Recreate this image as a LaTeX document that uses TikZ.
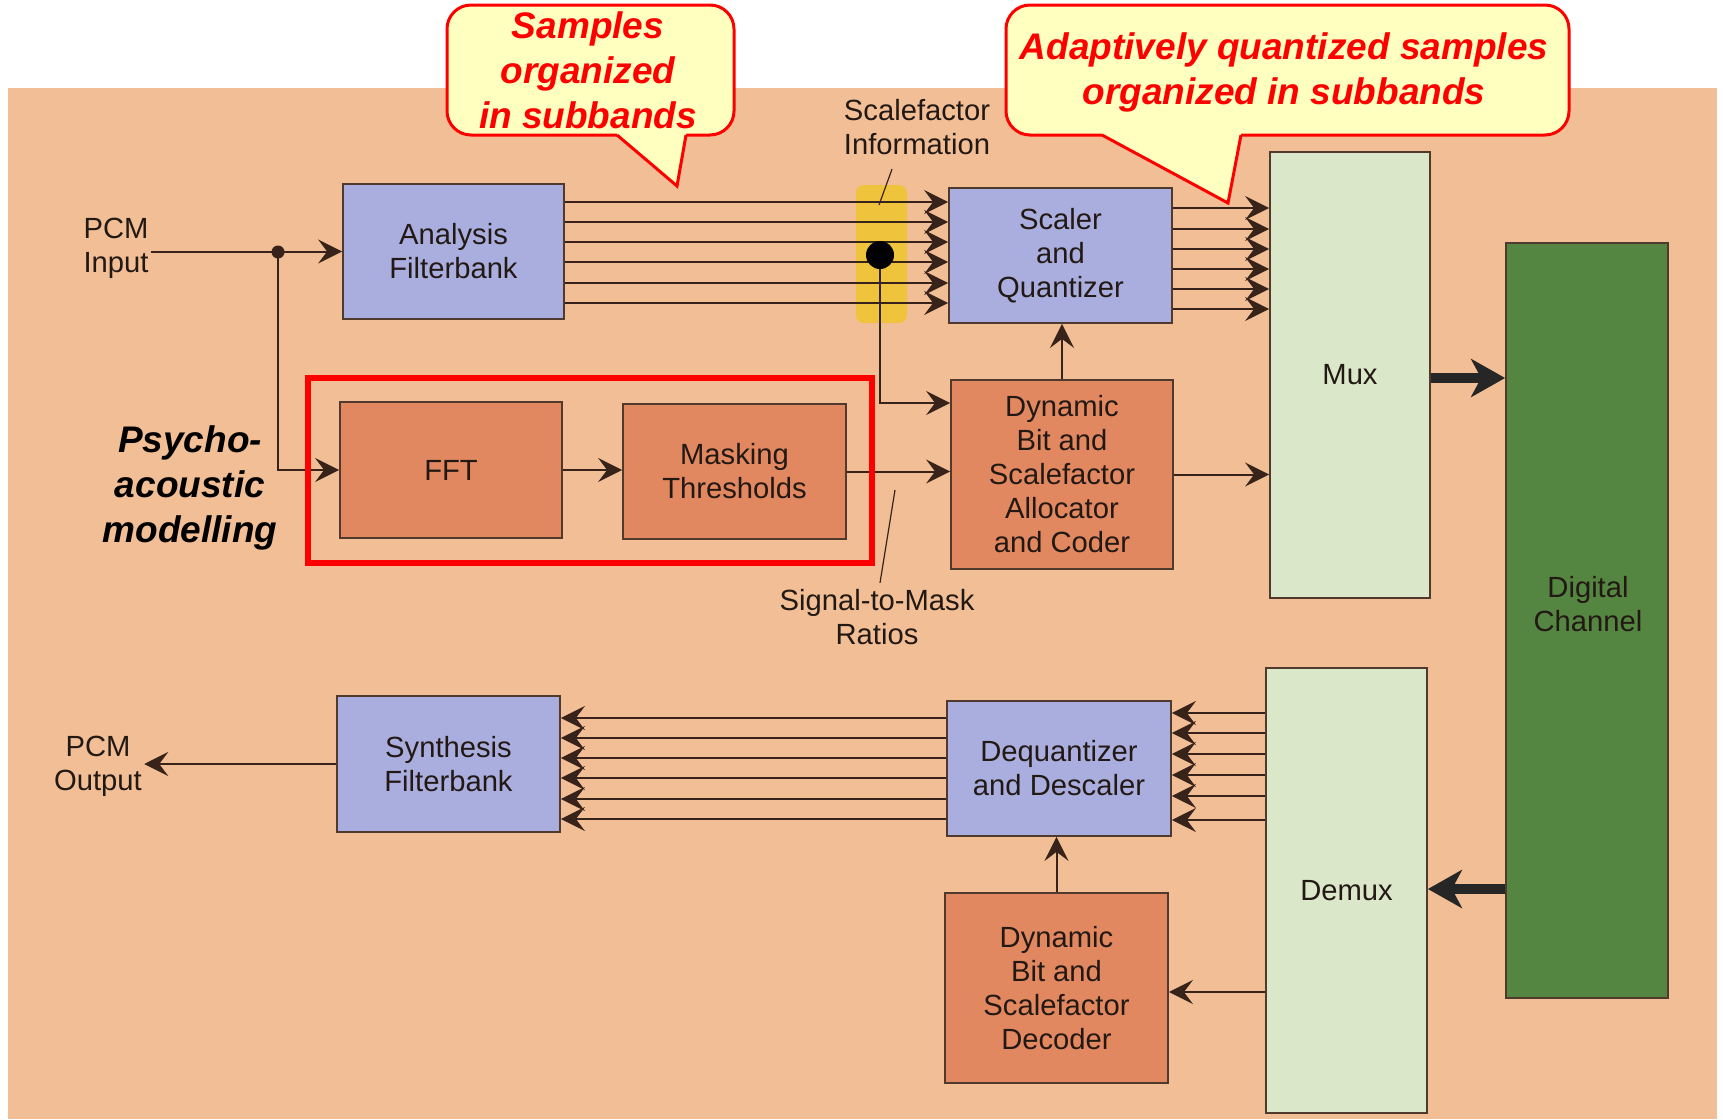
\documentclass[tikz,border=0pt]{standalone}
\usepackage{fontspec}
\setmainfont{Liberation Sans}
\usetikzlibrary{arrows.meta,calc}
\definecolor{bg}{RGB}{241,190,150}
\definecolor{bluebox}{RGB}{170,174,222}
\definecolor{orbox}{RGB}{226,136,96}
\definecolor{muxc}{RGB}{218,231,200}
\definecolor{digc}{RGB}{84,134,66}
\definecolor{hil}{RGB}{240,195,60}
\definecolor{calfill}{RGB}{255,255,192}
\definecolor{linec}{RGB}{55,35,25}
\definecolor{edgec}{RGB}{80,58,45}
\definecolor{txtc}{RGB}{35,25,20}
\begin{document}
\begin{tikzpicture}[x=0.5pt,y=-0.5pt,
  wh/.style 2 args={minimum width=#1*0.5pt, minimum height=#2*0.5pt},
  blk/.style={draw=edgec, line width=0.9pt, inner sep=0pt, align=center,
    font=\fontsize{14.6}{17}\selectfont, text=txtc},
  txt/.style={inner sep=1pt, align=center, font=\fontsize{14.6}{17}\selectfont, text=txtc},
  psy/.style={inner sep=1pt, align=center, font=\fontsize{18.5}{22.5}\selectfont\bfseries\itshape, text=black},
  calltxt/.style={inner sep=1pt, align=center, font=\fontsize{18.5}{22.5}\selectfont\bfseries\itshape, text=red},
  ln/.style={draw=linec, line width=1pt},
  leader/.style={draw=linec, line width=0.6pt},
  arr/.style={ln, -{Stealth[length=12pt,width=12pt,inset=4.5pt]}},
  bigarr/.style={draw=black!85, line width=5pt, -{Stealth[length=17pt,width=19pt,inset=5pt]}},
  callout/.style={fill=calfill, draw=red, line width=1.5pt}
]
\useasboundingbox (0,0) rectangle (1723,1119);
% background
\fill[bg] (8,88) rectangle (1717,1119);
% scalefactor highlight
\fill[hil, rounded corners=4pt] (856,185) rectangle (907,323);

% blocks
\node[blk, fill=bluebox, wh={221}{135}] (ana) at (453.5,251.5) {Analysis\\Filterbank};
\node[blk, fill=bluebox, wh={223}{135}] (scl) at (1060.5,255.5) {Scaler\\and\\Quantizer};
\node[blk, fill=muxc, wh={160}{446}] (mux) at (1350,375) {Mux};
\node[blk, fill=digc, wh={162}{755}] (dig) at (1587,620.5) {};
\node[txt] (digt) at (1588,604) {Digital\\Channel};
\node[blk, fill=orbox, wh={222}{136}] (fft) at (451,470) {FFT};
\node[blk, fill=orbox, wh={223}{135}] (msk) at (734.5,471.5) {Masking\\Thresholds};
\node[blk, fill=orbox, wh={222}{189}] (dyn) at (1062,474.5) {Dynamic\\Bit and\\Scalefactor\\Allocator\\and Coder};
\node[blk, fill=bluebox, wh={223}{136}] (syn) at (448.5,764) {Synthesis\\Filterbank};
\node[blk, fill=bluebox, wh={224}{135}] (deq) at (1059,768.5) {Dequantizer\\and Descaler};
\node[blk, fill=orbox, wh={223}{190}] (dec) at (1056.5,988) {Dynamic\\Bit and\\Scalefactor\\Decoder};
\node[blk, fill=muxc, wh={161}{445}] (dmx) at (1346.5,890.5) {Demux};

% labels
\node[txt] (pcmin) at (116,248) {PCM\\Input};
\node[txt] (pcmout) at (98,766) {PCM\\Output};
\node[txt] (sfi) at (917,127) {Scalefactor\\Information};
\node[txt] (smr) at (877,617) {Signal-to-Mask\\Ratios};
\node[psy] (psyt) at (190,488) {Psycho-\\acoustic\\modelling};

% input and split
\coordinate (split) at (278,252);
\draw[arr] (pcmin.east |- ana.west) -- (ana.west);
\draw[arr] (split) |- (fft.west);
\fill[linec] (split) circle (6.5);

% analysis -> scaler
\foreach \yy in {202,222,242,262,283,303}
  \draw[arr] (ana.east |- 0,\yy) -- (scl.west |- 0,\yy);
% scaler -> mux
\foreach \yy in {208,229,249,269,289,309}
  \draw[arr] (scl.east |- 0,\yy) -- (mux.west |- 0,\yy);

% scalefactor tap
\coordinate (sfdot) at (880,255);
\draw[arr] (sfdot) |- (dyn.west |- 0,403);
\fill[black] (sfdot) circle (14);
\coordinate (sfl) at (879,205);
\draw[leader] ($(sfi.south)+(-25,12)$) -- (sfl);

% psychoacoustic chain
\draw[arr] (fft.east) -- (fft.east -| msk.west);
\draw[arr] (msk.east) -- (msk.east -| dyn.west);
\coordinate (sml) at (895,490);
\draw[leader] ($(smr.north)+(3,-4)$) -- (sml);
\draw[arr] (dyn.north) -- (dyn.north |- scl.south);
\draw[arr] (dyn.east) -- (dyn.east -| mux.west);

% channel
\draw[bigarr] (mux.east |- 0,378) -- (dig.west |- 0,378);
\draw[bigarr] (dig.west |- 0,889) -- (dmx.east |- 0,889);

% decoder side
\foreach \yy in {713,733,754,775,796,820}
  \draw[arr] (dmx.west |- 0,\yy) -- (deq.east |- 0,\yy);
\foreach \yy in {718,738,758,778,799,819}
  \draw[arr] (deq.west |- 0,\yy) -- (syn.east |- 0,\yy);
\draw[arr] (dec.north) -- (dec.north |- deq.south);
\draw[arr] (dmx.west |- 0,992) -- (dec.east |- 0,992);
\draw[arr] (syn.west) -- (pcmout.east |- syn.west);

% red frame
\node[draw=red, line width=3pt, wh={564}{185}, inner sep=0pt] (psybox) at (590,470.5) {};

% callout 1
\draw[callout, rounded corners=12pt] (447,5) rectangle (734,135);
\fill[calfill] (617,131) -- (617,135) -- (677,186) -- (686,135) -- (686,131) -- cycle;
\draw[red, line width=1.5pt, line join=miter] (617,135) -- (677,186) -- (686,135);
\node[calltxt] (c1) at (588,70) {Samples\\organized\\in subbands};

% callout 2
\draw[callout, rounded corners=12pt] (1006,5) rectangle (1569,135);
\fill[calfill] (1102,131) -- (1102,135) -- (1228,203) -- (1241,135) -- (1241,131) -- cycle;
\draw[red, line width=1.5pt, line join=miter] (1102,135) -- (1228,203) -- (1241,135);
\node[calltxt] (c2) at (1284,72) {Adaptively quantized samples\\organized in subbands};
\end{tikzpicture}
\end{document}
